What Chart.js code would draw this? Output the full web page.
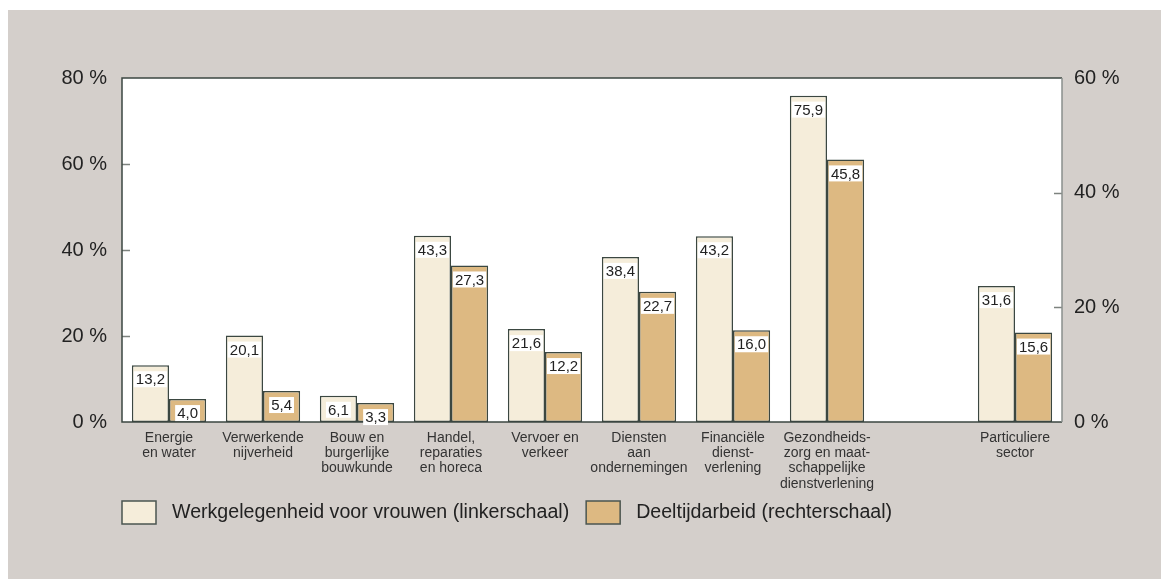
<!DOCTYPE html>
<html>
<head>
<meta charset="utf-8">
<script src="https://cdn.jsdelivr.net/npm/chart.js@4"></script>
<style>
  html, body { margin: 0; padding: 0; background: #fff; }
  #wrap { position: absolute; left: 8px; top: 10px; width: 1153px; height: 569px; background: #d4cfcb; }
  canvas { display: block; }
</style>
</head>
<body>
<div id="wrap"><canvas id="chart" width="1153" height="569"></canvas></div>
<script>
// Sectoren (lege categorie tussen zorg en particuliere sector)
const categories = [
  ["Energie", "en water"],
  ["Verwerkende", "nijverheid"],
  ["Bouw en", "burgerlijke", "bouwkunde"],
  ["Handel,", "reparaties", "en horeca"],
  ["Vervoer en", "verkeer"],
  ["Diensten", "aan", "ondernemingen"],
  ["Financiële", "dienst-", "verlening"],
  ["Gezondheids-", "zorg en maat-", "schappelijke", "dienstverlening"],
  "",
  ["Particuliere", "sector"],
];
const vrouwen = [13.2, 20.1, 6.1, 43.3, 21.6, 38.4, 43.2, 75.9, null, 31.6];
const deeltijd = [4.0, 5.4, 3.3, 27.3, 12.2, 22.7, 16.0, 45.8, null, 15.6];
const leftTicks = [0, 20, 40, 60, 80];
const rightTicks = [0, 20, 40, 60];

const FONT = "Arial, 'Liberation Sans', sans-serif";
const BORDER = "#3b4741";

// witte achtergrond van het plotgebied + kader + binnenste tickjes
const framePlugin = {
  id: "frame",
  beforeDatasetsDraw(chart) {
    const { ctx, chartArea: a } = chart;
    ctx.save();
    ctx.fillStyle = "#ffffff";
    ctx.fillRect(a.left, a.top, a.right - a.left, a.bottom - a.top);
    ctx.strokeStyle = "#7d837f";
    ctx.lineWidth = 1.5;
    const yl = chart.scales.y, yr = chart.scales.y2;
    leftTicks.slice(1, -1).forEach((v) => {
      const y = Math.round(yl.getPixelForValue(v)) + 0.5;
      ctx.beginPath(); ctx.moveTo(a.left, y); ctx.lineTo(a.left + 8, y); ctx.stroke();
    });
    rightTicks.slice(1, -1).forEach((v) => {
      const y = Math.round(yr.getPixelForValue(v)) + 0.5;
      ctx.beginPath(); ctx.moveTo(a.right - 8, y); ctx.lineTo(a.right, y); ctx.stroke();
    });
    ctx.restore();
  },
  afterDatasetsDraw(chart) {
    const { ctx, chartArea: a } = chart;
    ctx.save();
    ctx.lineWidth = 1.5;
    ctx.strokeStyle = BORDER;
    ctx.beginPath();
    ctx.moveTo(a.right, a.top); ctx.lineTo(a.left, a.top);
    ctx.lineTo(a.left, a.bottom); ctx.lineTo(a.right, a.bottom);
    ctx.stroke();
    ctx.strokeStyle = "#8a8f8c";
    ctx.beginPath(); ctx.moveTo(a.right, a.top); ctx.lineTo(a.right, a.bottom); ctx.stroke();

    // waardelabels in witte vakjes
    ctx.font = "15px " + FONT;
    ctx.textAlign = "center";
    ctx.textBaseline = "middle";
    chart.data.datasets.forEach((ds, di) => {
      chart.getDatasetMeta(di).data.forEach((bar, i) => {
        const v = ds.data[i];
        if (v == null) return;
        const txt = v.toFixed(1).replace(".", ",");
        const w = ctx.measureText(txt).width + 4;
        const cy = bar.y + 14;
        ctx.fillStyle = "#ffffff";
        ctx.fillRect(bar.x - w / 2, cy - 8, w, 16);
        ctx.fillStyle = "#222222";
        ctx.fillText(txt, bar.x, cy + 1);
      });
    });
    ctx.restore();
  },
  afterDraw(chart) {
    // legenda onderaan
    const { ctx, chartArea: a } = chart;
    ctx.save();
    ctx.font = "19.6px " + FONT;
    ctx.textBaseline = "middle";
    let x = a.left;
    const y = 491;
    chart.data.datasets.forEach((ds) => {
      ctx.fillStyle = ds.backgroundColor;
      ctx.fillRect(x, y, 34, 23);
      ctx.strokeStyle = "#4a5550";
      ctx.lineWidth = 1.5;
      ctx.strokeRect(x, y, 34, 23);
      ctx.fillStyle = "#222222";
      ctx.fillText(ds.label, x + 50, y + 12);
      x += 50 + ctx.measureText(ds.label).width + 17;
    });
    ctx.restore();
  },
};

const pct = (v) => v + " %";

new Chart(document.getElementById("chart"), {
  type: "bar",
  data: {
    labels: categories,
    datasets: [
      {
        label: "Werkgelegenheid voor vrouwen (linkerschaal)",
        data: vrouwen,
        yAxisID: "y",
        backgroundColor: "#f5edda",
        borderColor: BORDER,
        borderWidth: 1.5,
        borderSkipped: false,
      },
      {
        label: "Deeltijdarbeid (rechterschaal)",
        data: deeltijd,
        yAxisID: "y2",
        backgroundColor: "#ddb982",
        borderColor: BORDER,
        borderWidth: 1.5,
        borderSkipped: false,
      },
    ],
  },
  options: {
    responsive: false,
    animation: false,
    categoryPercentage: 0.79,
    barPercentage: 1,
    layout: { padding: { top: 68, left: 0, right: 0, bottom: 0 } },
    plugins: { legend: { display: false }, tooltip: { enabled: false } },
    scales: {
      x: {
        grid: { display: false, drawTicks: false },
        border: { display: false },
        ticks: {
          color: "#333333",
          font: { family: FONT, size: 14, lineHeight: 1.1 },
          padding: 8,
          maxRotation: 0,
          autoSkip: false,
        },
        afterFit: (s) => { s.height = 157; },
      },
      y: {
        position: "left",
        min: 0,
        max: 80,
        grid: { display: false, drawTicks: false },
        border: { display: false },
        ticks: { stepSize: 20, callback: pct, color: "#222222", font: { family: FONT, size: 20 }, padding: 15 },
        afterFit: (s) => { s.width = 114; },
      },
      y2: {
        position: "right",
        min: 0,
        max: 60,
        grid: { display: false, drawTicks: false },
        border: { display: false },
        ticks: { stepSize: 20, callback: pct, color: "#222222", font: { family: FONT, size: 20 }, padding: 12 },
        afterFit: (s) => { s.width = 99; },
      },
    },
  },
  plugins: [framePlugin],
});
</script>
</body>
</html>
